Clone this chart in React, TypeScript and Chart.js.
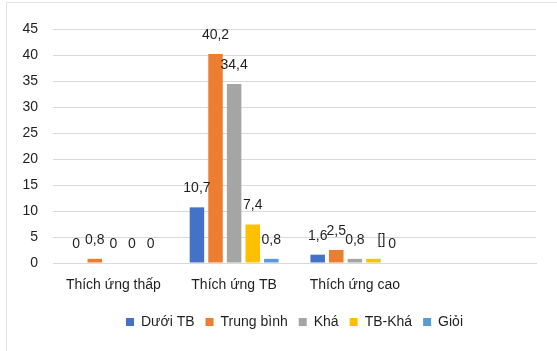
import React, { useEffect, useRef } from "react";
import { Chart, registerables } from "chart.js";

Chart.register(...registerables);

const categories = ["Thích ứng thấp", "Thích ứng TB", "Thích ứng cao", ""];
const seriesNames = ["Dưới TB", "Trung bình", "Khá", "TB-Khá", "Giỏi"];
const seriesColors = ["#4472C4", "#ED7D31", "#A5A5A5", "#FFC000", "#5B9BD5"];

const duoiTB = [0, 10.7, 1.6, null];
const trungBinh = [0.8, 40.2, 2.5, null];
const kha = [0, 34.4, 0.8, null];
const tbKha = [0, 7.4, 0.8, null];
const gioi = [0, 0.8, 0, null];

// label text overrides: [series index, category index, text, x shift]
const labelOverrides: [number, number, string, number][] = [[3, 2, "[]", 8]];

const yTicks = { min: 0, max: 45, step: 5 };

const FONT = "'Liberation Sans', Arial, sans-serif";
const TEXT = "#1f1f1f";

const dataLabelPlugin = {
  id: "dataLabels",
  afterDatasetsDraw(chart: any) {
    const ctx = chart.ctx;
    ctx.save();
    ctx.font = `14px ${FONT}`;
    ctx.fillStyle = TEXT;
    ctx.textAlign = "center";
    ctx.textBaseline = "middle";
    chart.data.datasets.forEach((ds: any, di: number) => {
      const meta = chart.getDatasetMeta(di);
      meta.data.forEach((bar: any, i: number) => {
        const v = ds.data[i];
        if (v === null || v === undefined) return;
        let text = String(v).replace(".", ",");
        let dx = 0;
        const ov = labelOverrides.find((o) => o[0] === di && o[1] === i);
        if (ov) {
          text = ov[2];
          dx = ov[3];
        }
        ctx.fillText(text, bar.x + dx, bar.y - 19);
      });
    });
    ctx.restore();
  },
};

export default function App() {
  const ref = useRef<HTMLCanvasElement>(null);
  useEffect(() => {
    if (!ref.current) return;
    const values = [duoiTB, trungBinh, kha, tbKha, gioi];
    const chart = new Chart(ref.current, {
      type: "bar",
      data: {
        labels: categories,
        datasets: values.map((d, i) => ({
          label: seriesNames[i],
          data: d,
          backgroundColor: seriesColors[i],
          borderWidth: 0,
          categoryPercentage: 0.77,
          barPercentage: 0.78,
        })),
      },
      options: {
        animation: false,
        responsive: false,
        maintainAspectRatio: false,
        layout: { padding: { left: 0, right: 21, top: 29, bottom: 12 } },
        plugins: {
          tooltip: { enabled: false },
          legend: {
            position: "bottom",
            fullSize: false,
            labels: {
              boxWidth: 8,
              boxHeight: 8,
              padding: 11,
              color: TEXT,
              font: { family: FONT, size: 14 },
            },
          },
        },
        scales: {
          x: {
            grid: { display: false, drawTicks: false },
            border: { color: "#D9D9D9" },
            ticks: {
              padding: 14,
              color: TEXT,
              font: { family: FONT, size: 14 },
              maxRotation: 0,
              autoSkip: false,
            },
            afterFit: (s: any) => {
              s.height = 41;
            },
          },
          y: {
            min: yTicks.min,
            max: yTicks.max,
            grid: { color: "#D9D9D9", drawTicks: false },
            border: { display: false },
            ticks: {
              stepSize: yTicks.step,
              padding: 15,
              color: TEXT,
              font: { family: FONT, size: 14 },
            },
            afterFit: (s: any) => {
              s.width = 53;
            },
          },
        },
      },
      plugins: [dataLabelPlugin],
    });
    return () => chart.destroy();
  }, []);

  return (
    <div
      style={{
        position: "fixed",
        left: 0,
        top: 0,
        width: 557,
        height: 351,
        background: "#fff",
        overflow: "hidden",
      }}
    >
      <div
        style={{
          position: "absolute",
          left: 6,
          top: 2,
          width: 600,
          height: 400,
          borderTop: "1px solid #E3E3E3",
          borderLeft: "1px solid #E3E3E3",
        }}
      />
      <canvas
        ref={ref}
        width={557}
        height={351}
        style={{ position: "absolute", left: 0, top: 0, width: 557, height: 351 }}
      />
    </div>
  );
}
